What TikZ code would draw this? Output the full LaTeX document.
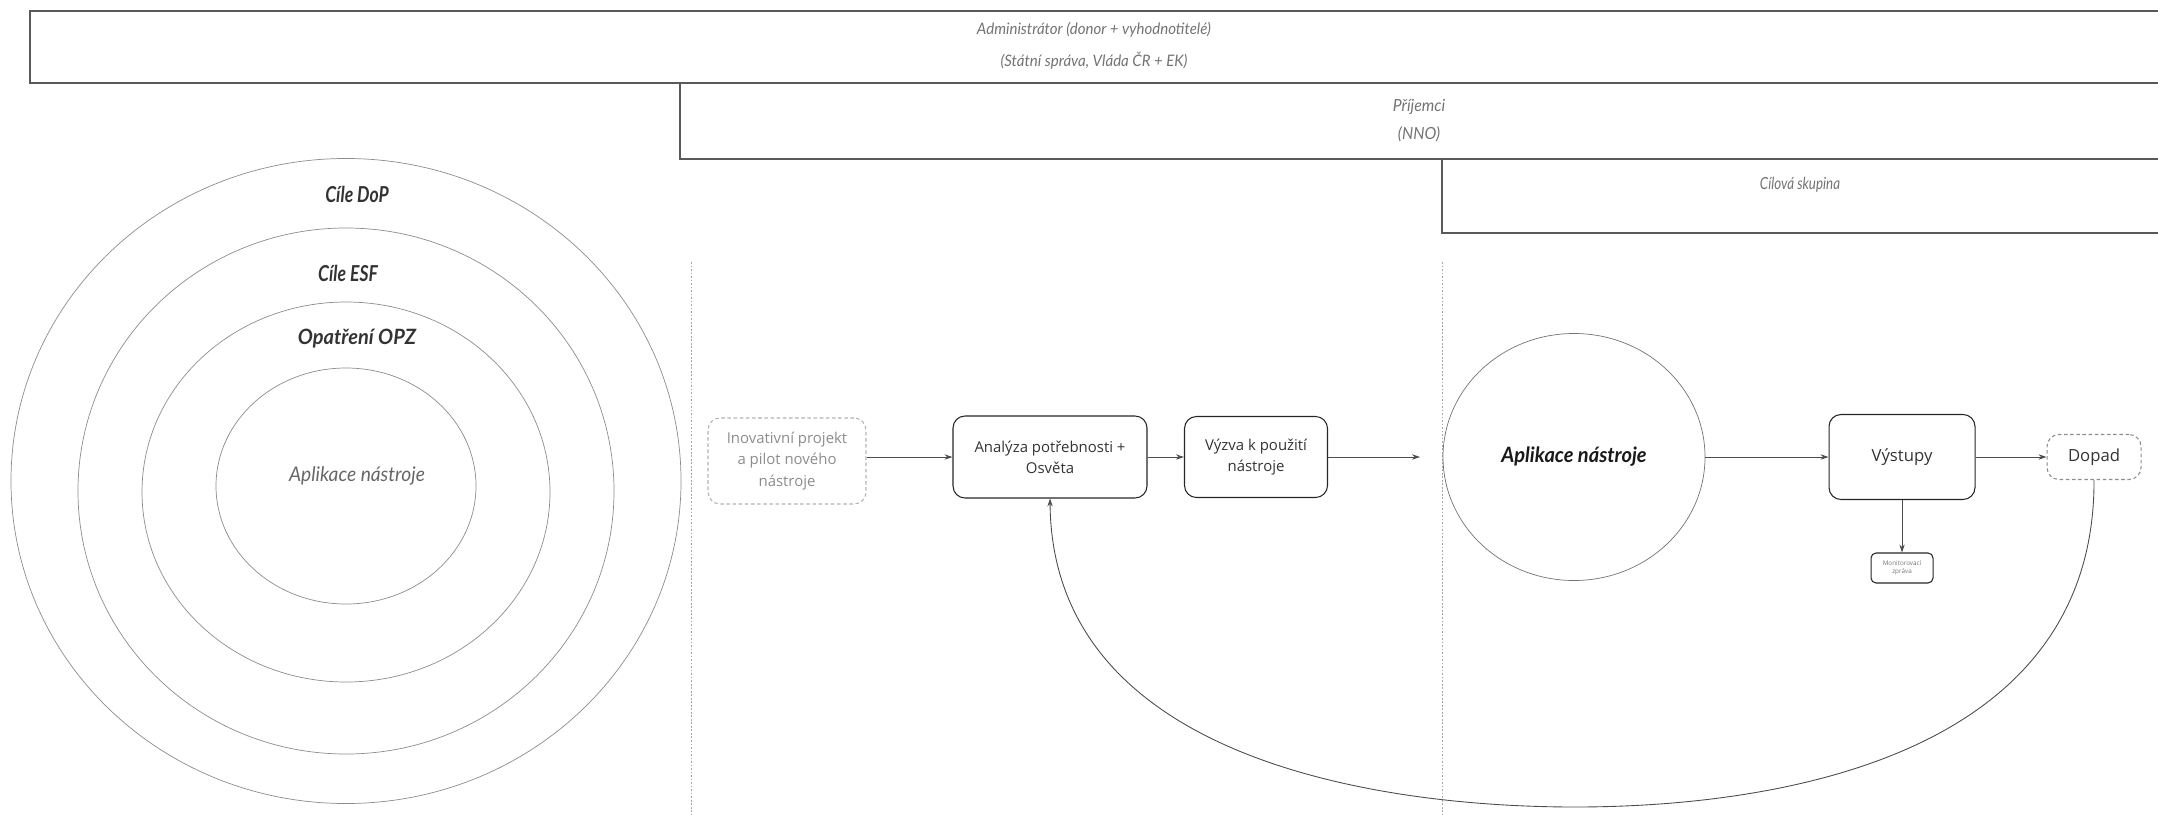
\documentclass[tikz,border=0pt]{standalone}
\usepackage{fontspec}
\setmainfont{Open Sans}
\newfontfamily\handfont{Lato}[FakeStretch=0.8]
\newfontfamily\handwide{Lato}[FakeStretch=0.95]
\usetikzlibrary{arrows.meta,shapes.geometric,positioning}

\begin{document}
\begin{tikzpicture}[x=0.2mm,y=-0.2mm,>={Stealth[length=4.5pt,width=3pt]},
  band/.style={draw=black!65,line width=0.7pt},
  bandlabel/.style={font=\handwide\itshape\fontsize{9.5}{16}\selectfont,text=black!55,align=center},
  ring/.style={ellipse,draw=black!45,line width=0.4pt,inner sep=0pt},
  ringlabel/.style={font=\handfont\itshape\bfseries\fontsize{12.5}{14}\selectfont,text=black!80},
  divider/.style={draw=black!35,line width=0.5pt,dash pattern=on 1pt off 1pt},
  stepbox/.style={draw=black!85,rounded corners=2.4mm,line width=0.6pt,align=center,
    font=\fontsize{8.5}{12}\selectfont,text=black!80,inner sep=2pt},
  ghostbox/.style={stepbox,draw=black!30,dash pattern=on 2pt off 1.5pt,text=black!45},
  flow/.style={->,draw=black!70,line width=0.5pt}]
\useasboundingbox (0,0) rectangle (2158,815);
\clip (0,0) rectangle (2158,815);
% actor bands
\draw[band] (30,11) rectangle (2175,83);
\draw[band] (680,83) rectangle (2175,159);
\draw[band] (1442,159) rectangle (2175,233);
\node[bandlabel,font=\handwide\itshape\fontsize{9}{18}\selectfont] (admin) at (1094,46)
  {Administrátor (donor + vyhodnotitelé)\\(Státní správa, Vláda ČR + EK)};
\node[bandlabel] (prijemci) at (1419,121) {Příjemci\\(NNO)};
\node[bandlabel,font=\handfont\itshape\fontsize{9.5}{16}\selectfont] (cilova) at (1800,185) {Cílová skupina};
% nested goals
\node[ring,minimum width=13.4cm,minimum height=12.9cm] (dop) at (346,481) {};
\node[ring,minimum width=10.72cm,minimum height=10.52cm] (esf) at (346,491) {};
\node[ring,minimum width=8.16cm,minimum height=7.6cm] (opz) at (346,492) {};
\node[ring,minimum width=5.2cm,minimum height=4.72cm] (aplin) at (346,486) {};
\node[ringlabel] (doplbl) at (357,194) {Cíle DoP};
\node[ringlabel] (esflbl) at (348,273) {Cíle ESF};
\node[ringlabel,font=\handwide\itshape\bfseries\fontsize{12}{14}\selectfont] (opzlbl) at (357,339) {Opatření OPZ};
\node[ringlabel,font=\handwide\itshape\fontsize{11.5}{14}\selectfont,text=black!60] (aplinlbl) at (357,476) {Aplikace nástroje};
% phase dividers
\draw[divider] (691,262) -- (691,815);
\draw[divider] (1442,262) -- (1442,815);
% process
\node[ghostbox,minimum width=3.16cm,minimum height=1.72cm] (inov) at (787,461) {Inovativní projekt\\a pilot nového\\nástroje};
\node[stepbox,minimum width=3.88cm,minimum height=1.64cm] (anal) at (1050,457) {Analýza potřebnosti +\\Osvěta};
\node[stepbox,minimum width=2.86cm,minimum height=1.62cm] (vyzva) at (1256,457) {Výzva k použití\\nástroje};
\coordinate (vyzvaend) at (1420,457);
\node[ellipse,draw=black!55,line width=0.4pt,minimum width=5.24cm,minimum height=4.94cm,
  font=\handwide\itshape\bfseries\fontsize{12}{14}\selectfont,text=black!90] (apl) at (1574,457) {Aplikace nástroje};
\node[stepbox,minimum width=2.92cm,minimum height=1.7cm,font=\fontsize{9.5}{12}\selectfont] (vyst) at (1902,457) {Výstupy};
\node[ghostbox,draw=black!45,text=black!80,minimum width=1.88cm,minimum height=0.9cm,
  font=\fontsize{9.5}{12}\selectfont] (dopad) at (2094,457) {Dopad};
\node[stepbox,rounded corners=1mm,minimum width=1.24cm,minimum height=0.6cm,inner sep=1pt,
  font=\fontsize{3.6}{4.5}\selectfont,text=black!55] (monit) at (1902,568) {Monitorovací\\zpráva};
\draw[flow] (inov.east |- anal.west) -- (anal.west);
\draw[flow] (anal) -- (vyzva);
\draw[flow] (vyzva) -- (vyzvaend);
\draw[flow] (apl) -- (vyst);
\draw[flow] (vyst) -- (dopad);
\draw[flow] (vyst) -- (monit);
% feedback loop
\draw[flow] (dopad.south) .. controls (2095,760) and (1770,807) .. (1575,807)
  .. controls (1380,807) and (1052,760) .. (anal.south);
\end{tikzpicture}
\end{document}
